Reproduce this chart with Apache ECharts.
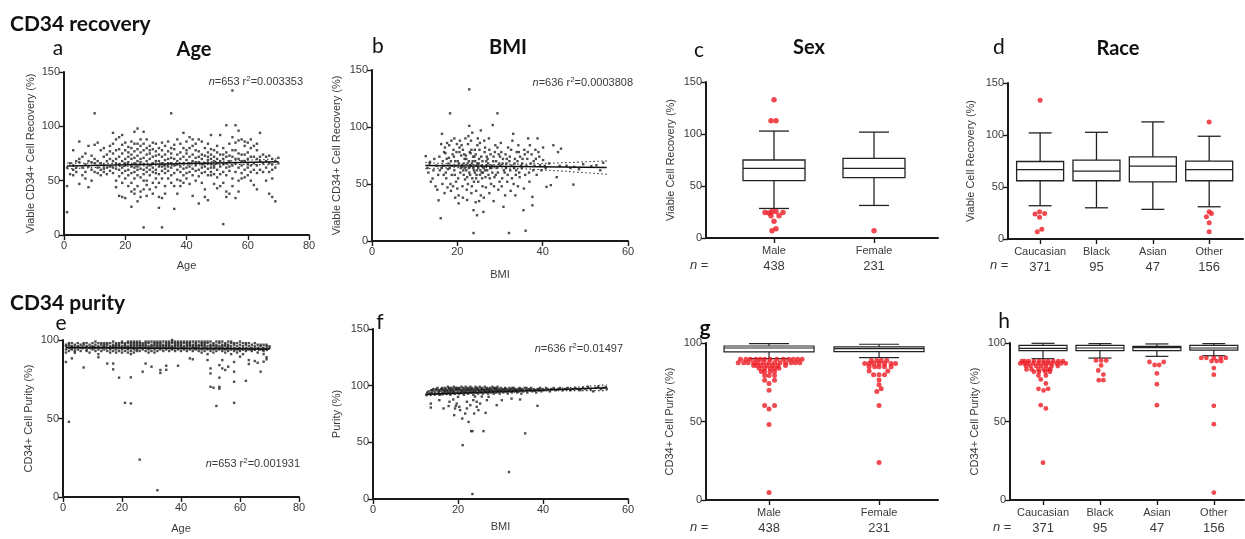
<!DOCTYPE html>
<html>
<head>
<meta charset="utf-8">
<script src="https://cdn.jsdelivr.net/npm/echarts@6/dist/echarts.min.js"></script>
<style>
  html, body { margin: 0; padding: 0; background: #fff; }
  #chart { width: 1245px; height: 539px; }
</style>
</head>
<body>
<div id="chart"></div>
<script>
// ---------- Panel a: viable CD34+ recovery (%) by age (age -> values) ----------
const recoveryByAge = [
  [1,[45,21,62]],[2,[56,66]],[3,[78,60,64,55]],[4,[68,58,62]],[5,[86,47,67,70]],
  [6,[62,55,72]],[7,[75,58,52,65]],[8,[82,44,68,63]],[9,[60,73,50,67]],[10,[112,83,66,58,70]],
  [11,[85,62,57,68]],[12,[78,60,66,55]],[13,[72,64,58,80,61]],[14,[68,74,56,62]],[15,[70,82,59,63,77]],
  [16,[94,75,62,57,68,84]],[17,[66,50,78,44,70,88,61]],[18,[36,72,60,79,90,54,65]],
  [19,[35,92,68,48,75,62,83,57]],[20,[34,64,70,85,52,78,66,59]],[21,[60,72,45,81,67,55,76]],
  [22,[26,74,40,63,86,57,70,48,80]],[23,[95,42,66,77,58,84,52,71,62,38]],
  [24,[98,31,68,79,55,45,84,63,73,60]],[25,[40,70,61,82,53,76,67,35,88]],
  [26,[7,95,42,65,78,56,71,84,60,50]],[27,[50,74,62,68,80,46,58,88,36]],
  [28,[78,64,55,70,42,82,60,75]],[29,[85,66,58,72,48,79,62,38]],[30,[60,73,52,84,68,44,77,57]],
  [31,[25,68,80,56,63,74,48,35]],[32,[7,72,59,85,66,52,78,34,63]],[33,[82,64,57,74,45,69,61,38]],
  [34,[86,70,59,63,52,77,66]],[35,[112,66,80,55,71,62,48,75]],[36,[24,79,64,57,70,45,83]],
  [37,[38,68,74,60,51,88,65]],[38,[50,76,63,84,58,70,45]],[39,[94,66,72,55,80,61,48]],
  [40,[86,62,75,57,69,52,78]],[41,[66,80,58,72,63,90,47]],[42,[36,74,68,55,82,61,88]],
  [43,[78,64,59,71,50,84,67]],[44,[29,72,88,60,67,54,77]],[45,[86,62,70,57,74,48,65]],
  [46,[35,80,66,58,73,63,42]],[47,[32,76,69,84,61,55,72,66]],[48,[92,65,74,58,79,70,62,55]],
  [49,[47,68,78,62,72,56,64]],[50,[43,82,60,70,66,53,76]],[51,[92,56,68,74,45,63]],
  [52,[10,65,80,48,70,58,74]],[53,[101,40,66,55,76,35,62,72]],[54,[38,68,84,59,73,63]],
  [55,[133,90,64,52,72,78,45]],[56,[101,34,78,66,58,85,70]],[57,[96,70,50,62,75,40,87]],
  [58,[88,64,74,52,68,57]],[59,[82,68,60,74,53,86]],[60,[85,62,70,55,76,65]],
  [61,[88,50,72,64,58,80]],[62,[72,60,82,66,46]],[63,[42,70,64,57,78,84]],[64,[94,68,60,72]],
  [65,[66,74,58]],[66,[72,62,50,68]],[67,[73,58,66,38]],[68,[52,35,65,60,70]],[69,[31,68,62]],[70,[71,66]]
];
const ageRecoveryFit = [[1,63.5],[70,67.4]];
const ageRecoveryCiUpper = [[1,66.2],[18,65.9],[35,66.4],[52,67.9],[70,70.2]];
const ageRecoveryCiLower = [[1,60.8],[18,63.0],[35,64.0],[52,64.9],[70,64.6]];

// ---------- Panel b: recovery (%) by BMI ----------
const recoveryByBmi = [
  [12.6,74.4],[13.6,69.4],[14.2,54.8],[15.6,35.7],[13.2,60],[13.8,52],[13.5,68],[13.0,64],
  [14.6,72],[14.4,62],[14.9,48],[15.1,66],[15.5,58],[15.8,74],[15.3,45],[15.9,62],
  [16.1,20],[16.2,85],[16.4,94],[16.6,70],[16.8,58],[16.3,64],[16.9,78],[16.5,50],[16.7,66],
  [17.1,82],[17.3,60],[17.5,72],[17.7,47],[17.9,68],[17.2,77],[17.4,55],[17.6,86],[17.8,63],[17.0,42],
  [18.1,84],[18.3,112],[18.5,70],[18.7,58],[18.9,76],[18.2,64],[18.4,50],[18.6,88],[18.8,66],[18.0,73],[18.5,44],
  [19.1,80],[19.3,62],[19.5,70],[19.7,52],[19.9,85],[19.2,74],[19.4,58],[19.6,66],[19.8,78],[19.0,48],[19.5,38],[19.3,90],
  [20.1,70],[20.3,33],[20.5,82],[20.7,60],[20.9,75],[20.2,55],[20.4,68],[20.6,88],[20.8,64],[20.0,46],[20.5,78],[20.3,40],
  [21.1,66],[21.3,80],[21.5,58],[21.7,72],[21.9,90],[21.2,48],[21.4,62],[21.6,76],[21.8,54],[21.0,84],[21.5,68],[21.3,38],[21.7,64],
  [22.1,72],[22.3,56],[22.5,85],[22.7,64],[22.9,78],[22.2,45],[22.4,68],[22.6,92],[22.8,60],[22.0,75],[22.5,50],[22.3,36],
  [22.8,101],[22.8,133],[22.7,70],[22.1,62],
  [23.1,66],[23.3,80],[23.5,55],[23.7,74],[23.9,62],[23.2,88],[23.4,48],[23.6,70],[23.8,7],[23.8,27],[23.0,58],[23.5,95],
  [23.3,42],[23.7,64],[23.1,77],[23.9,52],[23.4,68],
  [24.1,60],[24.3,76],[24.5,66],[24.7,84],[24.9,52],[24.2,70],[24.4,44],[24.6,22.6],[24.6,62],[24.8,90],[24.0,74],[24.5,58],
  [24.3,34],[24.7,68],[24.1,80],[24.9,64],[24.4,55],
  [25.1,72],[25.3,58],[25.5,97],[25.7,66],[25.9,48],[25.2,80],[25.4,62],[25.6,74],[25.8,55],[25.0,68],[25.5,40],[25.3,86],[25.7,60],[25.1,35],[25.9,70],
  [26.1,25.5],[26.2,64],[26.4,78],[26.6,56],[26.8,70],[26.3,88],[26.5,62],[26.7,47],[26.9,74],[26.0,60],[26.5,82],[26.2,38],[26.8,66],
  [27.1,72],[27.3,58],[27.5,80],[27.7,64],[27.9,50],[27.2,68],[27.4,90],[27.6,55],[27.8,76],[27.0,62],[27.5,42],
  [28.1,66],[28.3,101.7],[28.5,74],[28.7,56],[28.9,84],[28.2,60],[28.4,70],[28.6,48],[28.8,78],[28.0,64],[28.5,35],
  [29.1,70],[29.4,112],[29.5,60],[29.7,76],[29.9,52],[29.2,64],[29.4,82],[29.6,45],[29.8,68],[29.0,58],
  [30.1,66],[30.3,78],[30.5,55],[30.7,72],[30.9,62],[30.2,86],[30.4,48],[30.6,68],[30.8,30],[30.0,74],
  [31.1,60],[31.3,76],[31.5,68],[31.7,52],[31.9,82],[31.2,40],[31.4,64],[31.6,72],[31.8,58],
  [32.1,7],[32.2,70],[32.4,62],[32.6,80],[32.8,55],[32.3,74],[32.5,44],[32.7,66],[32.9,88],
  [33.1,94],[33.3,64],[33.5,72],[33.7,58],[33.9,78],[33.2,50],[33.4,68],[33.6,40],[33.8,62],
  [34.1,70],[34.3,84],[34.5,60],[34.7,74],[34.9,66],[34.2,48],[34.4,78],[34.6,56],
  [35.1,64],[35.5,27],[35.3,72],[35.7,80],[35.9,58],[35.2,68],[35.6,46],[35.8,76],
  [36.0,9],[36.2,66],[36.6,90],[36.4,72],[36.8,60],[36.5,78],[36.9,52],
  [37.2,68],[37.6,38.7],[37.6,31.3],[37.4,76],[37.8,62],[37.0,84],[37.9,70],
  [38.1,66],[38.8,90],[38.4,72],[38.6,58],[38.3,80],[39.4,66.5],[39.2,74],[39.7,62],[39.0,78],
  [40.1,82],[40.1,71],[40.5,66],[40.9,47.5],[40.7,64],[41.9,49],[42.5,84],[41.5,68],[43.3,56],[44.3,81],
  [43.6,78],[44.0,66],[45.6,66],[47.2,49.5],[47.4,65],[46.5,64],[49.5,67.4],[51.4,65.6],[52.6,66.5],
  [54.2,68.6],[53.5,62],[48.5,63]
];
const bmiRecoveryFit = [[12.5,66.2],[55,64.5]];
const bmiRecoveryCiUpper = [[12.5,69.0],[18,67.6],[25,67.0],[35,67.5],[45,68.7],[55,70.3]];
const bmiRecoveryCiLower = [[12.5,63.4],[18,64.2],[25,64.4],[35,63.4],[45,61.2],[55,58.6]];

// ---------- Panel c: recovery by sex ----------
const sexCategories = ['Male', 'Female'];
const sexCounts = [438, 231];
// [lower whisker, Q1, median, Q3, upper whisker]
const sexRecoveryBoxes = [[28.4,55.2,67,75,102.8],[31.3,58,67,76.6,101.8]];
// [category index, horizontal spread, value]
const sexRecoveryOutliers = [
  [0,0,133],[0,-0.03,112.7],[0,0.02,112.7],[0,-0.09,24.6],[0,-0.05,24],[0,-0.02,25.5],[0,0.02,25.5],
  [0,0.09,24.6],[0,-0.03,21.4],[0,0.05,21.4],[0,0,16],[0,0.02,8.9],[0,-0.02,7],[1,0,7]
];

// ---------- Panel d: recovery by race ----------
const raceCategories = ['Caucasian', 'Black', 'Asian', 'Other'];
const raceCounts = [371, 95, 47, 156];
const raceRecoveryBoxes = [[32,56,66.8,74.5,102],[30,56,65.2,75.8,102.6],[28.5,55,70,79,112.6],[31,56,66.8,74.8,98.8]];
const raceRecoveryOutliers = [
  [0,0,133.4],[0,-0.09,24],[0,-0.01,26.2],[0,0.08,24.6],[0,-0.01,20.8],[0,0.03,9.3],[0,-0.05,7],
  [3,0,112.6],[3,0,26.2],[3,0.04,24.6],[3,-0.05,21.4],[3,0,15.7],[3,0,7]
];

// ---------- Panel e: CD34+ purity (%) by age ----------
const purityBandByAge = [
  [1,[96,94,97,92]],[2,[95,97,93,98]],[3,[96,94,98,95]],[4,[97,93,95]],[5,[96,98,94]],[6,[95,97,93]],
  [7,[97,95,98]],[8,[94,96,98,93]],[9,[97,95,92]],[10,[96,98,94,95]],[11,[97,99,95,93]],[12,[96,94,98,91]],
  [13,[95,97,93,98]],[14,[96,94,98,97]],[15,[97,95,93,98]],[16,[96,98,94,95,92]],[17,[95,97,99,93,96]],
  [18,[98,96,94,97,92]],[19,[95,97,93,98,96]],[20,[96,98,94,99,92,95]],[21,[97,95,93,98,96]],
  [22,[96,98,94,99,92,95]],[23,[97,99,95,93,96,98,91]],[24,[96,98,94,99,95,97,92]],[25,[98,96,94,97,99,93]],
  [26,[95,97,99,93,96,98]],[27,[96,98,94,97,95]],[28,[97,99,95,93,96,98]],[29,[96,98,94,99,92,95]],
  [30,[97,95,99,93,96]],[31,[98,96,94,97,99,92]],[32,[95,97,99,93,96,98]],[33,[96,98,94,99,95,97]],
  [34,[97,99,95,93,96]],[35,[98,96,94,97,99,95]],[36,[95,97,99,93,96,98]],[37,[96,98,94,99,95,100]],
  [38,[97,99,95,93,96,98]],[39,[98,96,94,97,99]],[40,[95,97,99,93,96,98]],[41,[96,98,94,99,95]],
  [42,[97,99,95,93,96,98]],[43,[98,96,94,97,99]],[44,[95,97,99,93,96]],[45,[96,98,94,99,95,97]],
  [46,[97,99,95,93,96]],[47,[98,96,94,97,99,92]],[48,[95,97,99,93,96,98]],[49,[96,98,94,99,91]],
  [50,[97,99,95,93,96]],[51,[98,96,94,97,92]],[52,[95,97,99,93,96]],[53,[96,98,94,99,95]],
  [54,[97,99,95,93,96]],[55,[98,96,94,97,92]],[56,[95,97,99,93,96]],[57,[96,98,94,99,91]],
  [58,[97,95,93,98]],[59,[96,94,98,92]],[60,[97,95,99,93]],[61,[96,98,94,91]],[62,[97,95,98,93]],
  [63,[96,94,98]],[64,[95,97,93]],[65,[96,98,94]],[66,[95,97,92]],[67,[96,94,97]],[68,[95,93,97,91]],
  [69,[96,94,97]],[70,[95,96]]
];
const purityAgeOutliers = [
  [1,86],[2,47.9],[3,88.3],[4,91.9],[7,82.5],[12,89],[15,85],[17,85],[17,81.3],[19,76],[21,60],[23,59.6],
  [23,76.2],[26,23.8],[27,79.8],[28,85],[32,4.3],[30,83],[33,80.9],[33,79],[35,81],[35,83.6],[39,83.6],
  [43,88.3],[44,87.7],[49,87.2],[50,81.9],[50,78.7],[50,70.2],[51,69.6],[52,58],[53,84],[53,76],[53,70.2],
  [53,69],[54,81.9],[54,87.2],[55,80.9],[56,83],[58,86],[58,73.4],[58,60],[58,79.8],[60,89.4],[62,74],
  [63,87.2],[63,84.7],[65,86.6],[66,85.5],[67,79.8],[68,86.2],[69,89],[69,87.7]
];
const agePurityFit = [[1,95.3],[70,94.2]];
const agePurityCiUpper = [[1,96.4],[35,95.2],[70,95.3]];
const agePurityCiLower = [[1,94.2],[35,94.3],[70,93.1]];

// ---------- Panel f: purity (%) by BMI ----------
const purityByBmi = [
  [12.5,92],[12.8,94],[13.1,95],[13.4,93],[13.7,96],[13.9,94],[14.2,97],[14.5,95],[14.7,93],[15.0,96],[15.2,98],
  [15.4,94],[15.6,96],[15.8,92],[16.0,97],[16.1,95],[16.3,98],[16.4,93],[16.6,96],[16.7,94],[16.9,98],[17.0,95],
  [17.2,97],[17.3,93],[17.5,96],[17.6,99],[17.8,94],[17.9,97],[18.1,95],[18.2,92],[18.4,98],[18.5,96],[18.7,94],
  [18.8,97],[19.0,99],[19.1,95],[19.3,93],[19.4,97],[19.6,96],[19.7,98],[19.9,94],[20.0,96],[20.2,98],[20.3,93],
  [20.5,97],[20.6,95],[20.8,99],[20.9,94],[21.1,96],[21.2,98],[21.4,92],[21.5,97],[21.7,95],[21.8,99],[22.0,94],
  [22.1,96],[22.3,98],[22.4,93],[22.6,97],[22.7,95],[22.9,99],[23.0,96],[23.2,94],[23.3,98],[23.5,96],[23.6,92],
  [23.8,97],[23.9,95],[24.1,99],[24.2,94],[24.4,96],[24.5,98],[24.7,93],[24.8,97],[25.0,95],[25.1,99],[25.3,96],
  [25.4,94],[25.6,98],[25.7,96],[25.9,93],[26.0,97],[26.2,95],[26.3,99],[26.5,96],[26.6,94],[26.8,98],[26.9,96],
  [27.1,93],[27.2,97],[27.4,95],[27.5,98],[27.7,96],[27.8,94],[28.0,97],[28.1,99],[28.3,95],[28.4,93],[28.6,97],
  [28.7,96],[28.9,98],[29.0,94],[29.2,96],[29.3,99],[29.5,95],[29.6,97],[29.8,93],[29.9,96],[30.1,98],[30.3,95],
  [30.5,97],[30.7,94],[30.9,96],[31.1,98],[31.3,95],[31.5,97],[31.7,93],[31.9,96],[32.1,98],[32.3,95],[32.5,97],
  [32.7,94],[32.9,96],[33.1,98],[33.3,95],[33.5,97],[33.7,96],[33.9,94],[34.1,97],[34.3,95],[34.5,98],[34.7,96],
  [34.9,93],[35.1,97],[35.4,95],[35.7,98],[36.0,96],[36.3,94],[36.6,97],[36.9,96],[37.2,98],[37.5,95],[37.8,97],
  [38.1,96],[38.4,94],[38.7,97],[39.0,96],[39.3,98],[39.6,95],[39.9,97],[40.3,96],[40.7,98],[41.1,97],[41.6,95],
  [42.0,97],[42.5,98],[43.0,96],[43.5,97],[44.0,98],[44.6,96],[45.2,97],[45.8,98],[46.4,96],[47.0,97],[47.6,98],
  [48.2,97],[48.8,96],[49.4,98],[50.0,97],[50.6,99],[51.2,97],[51.8,95],[52.4,98],[53.0,99],[53.6,97],[54.2,98],
  [54.8,99],[55.0,97],
  [14.0,96],[14.8,97],[15.5,95],[16.2,97],[16.8,96],[17.4,95],[17.9,98],[18.3,96],[18.9,95],[19.5,98],[20.1,97],
  [20.7,96],[21.3,95],[21.9,97],[22.5,96],[23.1,97],[23.7,95],[24.3,97],[24.9,96],[25.5,97],[26.1,96],[26.7,97],
  [27.3,96],[27.9,95],[28.5,98],[29.1,97],[29.7,95],[30.4,96],[31.0,97],[31.6,95],[32.2,96],[32.8,98],[33.4,96],
  [34.0,95],[34.6,97],[35.2,96],[36.1,98],[37.0,97],[38.0,96],[39.1,97],
  [13.6,84.2],[13.6,80.7],[15.6,87.2],[16.6,79.9],[19.1,74],[19.3,79.9],[19.7,84.2],[19.5,82.2],[20.3,81.3],
  [21.0,71],[21.1,47.5],[21.7,75.4],[22.1,79.9],[22.5,68],[22.9,82.8],[23.1,59.9],[23.4,59.9],[23.6,87.2],
  [23.4,4.4],[23.8,75.4],[24.4,81.3],[24.8,78.4],[25.2,84.2],[26.0,59.9],[26.5,76],[26.8,87.2],[27.2,90.1],
  [32.0,23.8],[35.8,57.9],[38.7,82.2],[30.3,87.2],[29.1,82.8],[32.6,88.6],[34.6,87.8],[20.5,78.4],[20.0,90.1],
  [17.8,82],[18.0,85.8],[22.1,85.8],[24.0,90.4],[24.4,85.8],[25.6,90.4],[18.9,87.8]
];
const bmiPurityFit = [[12.5,92.3],[55,98.2]];
const bmiPurityCiUpper = [[12.5,93.6],[25,94.6],[35,96.2],[45,98.0],[55,100.8]];
const bmiPurityCiLower = [[12.5,91.0],[25,93.4],[35,94.6],[45,95.6],[55,95.6]];

// ---------- Panel g: purity by sex ----------
const sexPurityBoxes = [[90.0,94.3,96.8,98.1,99.6],[90.7,94.5,96.4,97.5,99.2]];
const sexPurityOutliers = [
  [0,-0.26,89.6],[0,-0.21,89.6],[0,-0.17,89.6],[0,-0.12,89.6],[0,-0.08,89.6],[0,-0.04,89.6],[0,0.01,89.6],
  [0,0.07,89.6],[0,0.13,89.6],[0,0.18,89.6],[0,0.22,89.6],[0,0.26,89.6],[0,0.30,89.6],
  [0,-0.28,87.5],[0,-0.23,87.5],[0,-0.19,87.5],[0,-0.14,87.5],[0,-0.10,87.5],[0,-0.05,87.5],[0,0,87.5],
  [0,0.05,87.5],[0,0.10,87.5],[0,0.15,87.5],[0,0.20,87.5],[0,0.24,87.5],[0,0.28,87.5],
  [0,-0.14,85.6],[0,-0.11,85.6],[0,-0.07,85.6],[0,-0.02,85.6],[0,0.03,85.6],[0,0.08,85.6],[0,0.15,85.6],
  [0,-0.09,83.9],[0,-0.04,83.9],[0,0.01,83.9],[0,0.05,83.9],[0,0.09,83.9],
  [0,-0.07,81.8],[0,-0.04,81.8],[0,0.01,81.8],[0,0.05,81.8],
  [0,-0.04,79.3],[0,0,79.3],[0,0.05,79.3],[0,-0.04,76.3],[0,0.05,76.3],[0,0,74.2],[0,0,69.9],
  [0,-0.04,60.2],[0,0.05,60.2],[0,0,58],[0,0,48.1],[0,0,4.7],
  [1,-0.07,88.8],[1,-0.02,88.8],[1,0.02,88.8],[1,0.07,88.8],
  [1,-0.13,86.9],[1,-0.09,86.9],[1,-0.05,86.9],[1,0,86.9],[1,0.05,86.9],[1,0.11,86.9],[1,0.15,86.9],
  [1,-0.09,84.8],[1,-0.04,84.8],[1,0,84.8],[1,0.05,84.8],[1,0.11,84.8],
  [1,-0.09,82.2],[1,0.08,82.2],[1,-0.05,79.7],[1,0,79.7],[1,0.05,79.7],
  [1,0,76.5],[1,0,73.4],[1,0.02,70.8],[1,-0.02,69.1],[1,0,60.2],[1,0,23.9]
];

// ---------- Panel h: purity by race ----------
const racePurityBoxes = [[90,95.1,96.6,98.5,99.8],[90.4,95.1,96.8,98.5,99.6],[91.5,95.1,97,97.9,99.4],[91.9,95.5,96.8,98.5,99.6]];
const racePurityOutliers = [
  [0,-0.37,88.5],[0,-0.32,88.5],[0,-0.25,88.5],[0,-0.16,88.5],[0,-0.07,88.5],[0,0.01,88.5],[0,0.09,88.5],
  [0,0.18,88.5],[0,0.27,88.5],[0,0.35,88.5],
  [0,-0.40,87],[0,-0.33,87],[0,-0.26,87],[0,-0.17,87],[0,-0.08,87],[0,0.01,87],[0,0.08,87],[0,0.15,87],
  [0,0.24,87],[0,0.32,87],[0,0.40,87],
  [0,-0.30,85.3],[0,-0.22,85.3],[0,-0.12,85.3],[0,-0.04,85.3],[0,0.05,85.3],[0,0.15,85.3],[0,0.26,85.3],
  [0,-0.29,83.2],[0,-0.20,83.2],[0,-0.08,83.2],[0,0.01,83.2],[0,0.09,83.2],[0,0.13,83.2],
  [0,-0.16,81.7],[0,-0.07,81.7],[0,0.04,81.7],[0,0.12,81.7],
  [0,-0.08,79.3],[0,0.05,79.3],[0,-0.04,76.8],[0,0.05,74.2],[0,-0.08,70.8],[0,0.09,70.8],[0,0.01,69.8],
  [0,-0.04,60.4],[0,0.05,58.3],[0,0,23.8],
  [1,-0.07,88.9],[1,0.02,88.9],[1,0.11,88.9],[1,0.02,85.7],[1,-0.03,82.5],[1,0.06,79.9],[1,-0.02,76.3],[1,0.06,76.3],
  [2,-0.13,87.9],[2,0.12,87.9],[2,-0.04,86],[2,0.04,86],[2,0,80.6],[2,0,73.8],[2,0,60.4],
  [3,-0.22,90.5],[3,-0.13,90.5],[3,0,90.5],[3,0.12,90.5],[3,0.21,90.5],
  [3,-0.04,88.5],[3,0.05,88.5],[3,0.13,88.5],[3,0,84],[3,0,79.8],[3,0,60],[3,0,48.3],[3,0,4.7]
];

// ---------- drawing ----------
const AXIS_FONT = '"Liberation Sans", Arial, sans-serif';
const HEAD_FONT = 'Lato, "Open Sans", sans-serif';
const INK = '#1a1a1a';
const LABEL_INK = '#3a3a3a';
const RED = '#ee1c24';

const expandGroups = groups => groups.flatMap(([x, ys]) => ys.map(y => [x, y]));
const boxData = boxes => boxes.map((b, i) => [i + 1].concat(b));
const dotData = pts => pts.map(([ci, dx, v]) => [ci + 1 + dx, v]);

const grids = [
  { left: 64,   top: 72,  width: 245, height: 163 },  // a
  { left: 372,  top: 70,  width: 256, height: 171 },  // b
  { left: 706,  top: 82,  width: 232, height: 156 },  // c
  { left: 1008, top: 83,  width: 235, height: 156 },  // d
  { left: 63,   top: 340, width: 236, height: 157 },  // e
  { left: 373,  top: 329, width: 255, height: 170 },  // f
  { left: 706,  top: 343, width: 232, height: 157 },  // g
  { left: 1010, top: 343, width: 234, height: 157 }   // h
].map(g => Object.assign({ containLabel: false, outerBoundsMode: 'none' }, g));

const axisLine = { show: true, onZero: false, lineStyle: { color: INK, width: 2 } };
const axisTick = { show: true, length: 5, lineStyle: { color: INK, width: 1.4 } };

function yAxis(gi, max, name, gap) {
  return {
    gridIndex: gi, type: 'value', min: 0, max: max, interval: 50,
    name: name, nameLocation: 'middle', nameGap: gap,
    nameTextStyle: { fontFamily: AXIS_FONT, fontSize: 11, color: LABEL_INK },
    axisLine, axisTick,
    axisLabel: { fontFamily: AXIS_FONT, fontSize: 11, color: LABEL_INK, margin: 4 },
    splitLine: { show: false }
  };
}
function xValueAxis(gi, max, name, gap) {
  return {
    gridIndex: gi, type: 'value', min: 0, max: max, interval: 20,
    name: name, nameLocation: 'middle', nameGap: gap,
    nameTextStyle: { fontFamily: AXIS_FONT, fontSize: 11, color: LABEL_INK },
    axisLine, axisTick,
    axisLabel: { fontFamily: AXIS_FONT, fontSize: 11, color: LABEL_INK, margin: 5 },
    splitLine: { show: false }
  };
}
function xGroupAxis(gi, min, max, cats, counts) {
  const positions = cats.map((c, i) => i + 1);
  return {
    gridIndex: gi, type: 'value', min: min, max: max,
    axisLine, axisTick: Object.assign({ customValues: positions }, axisTick),
    axisLabel: {
      customValues: positions, margin: 6,
      fontFamily: AXIS_FONT, fontSize: 11, color: LABEL_INK, lineHeight: 14,
      formatter: v => { const i = Math.round(v) - 1; return cats[i] + '\n{n|' + counts[i] + '}'; },
      rich: { n: { fontFamily: AXIS_FONT, fontSize: 13, color: LABEL_INK, lineHeight: 16 } }
    },
    splitLine: { show: false }
  };
}

const xAxes = [
  xValueAxis(0, 80, 'Age', 25),
  xValueAxis(1, 60, 'BMI', 28),
  xGroupAxis(2, 0.32, 2.64, sexCategories, sexCounts),
  xGroupAxis(3, 0.43, 4.6, raceCategories, raceCounts),
  xValueAxis(4, 80, 'Age', 26),
  xValueAxis(5, 60, 'BMI', 22),
  xGroupAxis(6, 0.427, 2.536, sexCategories, sexCounts),
  xGroupAxis(7, 0.42, 4.53, raceCategories, raceCounts)
];
const yAxes = [
  yAxis(0, 150, 'Viable CD34+ Cell Recovery (%)', 28),
  yAxis(1, 150, 'Viable CD34+ Cell Recovery (%)', 30),
  yAxis(2, 150, 'Viable Cell Recovery (%)', 30),
  yAxis(3, 150, 'Viable Cell Recovery (%)', 32),
  yAxis(4, 100, 'CD34+ Cell Purity (%)', 29),
  yAxis(5, 150, 'Purity (%)', 31),
  yAxis(6, 100, 'CD34+ Cell Purity (%)', 31),
  yAxis(7, 100, 'CD34+ Cell Purity (%)', 30)
];

function scatter(idx, data) {
  return {
    type: 'scatter', xAxisIndex: idx, yAxisIndex: idx, data: data,
    symbol: 'rect', symbolSize: 2.4, itemStyle: { color: '#222' }, silent: true
  };
}
function fitLine(idx, data, dotted) {
  return {
    type: 'line', xAxisIndex: idx, yAxisIndex: idx, data: data, showSymbol: false, silent: true,
    smooth: dotted ? 0.4 : false, z: 3,
    lineStyle: dotted ? { color: '#333', width: 1.1, type: [1.5, 2.5] } : { color: '#111', width: 1.6 }
  };
}
function boxSeries(idx, boxes, boxPx, capPx, lw) {
  return {
    type: 'custom', xAxisIndex: idx, yAxisIndex: idx, data: boxData(boxes), silent: true,
    encode: { x: 0, y: [1, 2, 3, 4, 5] },
    renderItem: (params, api) => {
      const x = api.value(0);
      const lo = api.coord([x, api.value(1)]);
      const q1 = api.coord([x, api.value(2)]);
      const md = api.coord([x, api.value(3)]);
      const q3 = api.coord([x, api.value(4)]);
      const hi = api.coord([x, api.value(5)]);
      const cx = lo[0], hb = boxPx / 2, hc = capPx / 2;
      const st = { stroke: '#222', lineWidth: lw, fill: null };
      return {
        type: 'group', children: [
          { type: 'line', shape: { x1: cx, y1: hi[1], x2: cx, y2: q3[1] }, style: st },
          { type: 'line', shape: { x1: cx - hc, y1: hi[1], x2: cx + hc, y2: hi[1] }, style: st },
          { type: 'line', shape: { x1: cx, y1: q1[1], x2: cx, y2: lo[1] }, style: st },
          { type: 'line', shape: { x1: cx - hc, y1: lo[1], x2: cx + hc, y2: lo[1] }, style: st },
          { type: 'rect', shape: { x: cx - hb, y: q3[1], width: boxPx, height: q1[1] - q3[1] },
            style: { stroke: '#222', lineWidth: lw, fill: '#fff' } },
          { type: 'line', shape: { x1: cx - hb, y1: md[1], x2: cx + hb, y2: md[1] }, style: st }
        ]
      };
    }
  };
}
function redDots(idx, pts, size) {
  return {
    type: 'scatter', xAxisIndex: idx, yAxisIndex: idx, data: dotData(pts), silent: true,
    symbol: 'circle', symbolSize: size, itemStyle: { color: RED }, z: 4
  };
}

const series = [
  scatter(0, expandGroups(recoveryByAge)),
  fitLine(0, ageRecoveryFit), fitLine(0, ageRecoveryCiUpper, true), fitLine(0, ageRecoveryCiLower, true),
  scatter(1, recoveryByBmi),
  fitLine(1, bmiRecoveryFit), fitLine(1, bmiRecoveryCiUpper, true), fitLine(1, bmiRecoveryCiLower, true),
  boxSeries(2, sexRecoveryBoxes, 62, 30, 1.3), redDots(2, sexRecoveryOutliers, 5.5),
  boxSeries(3, raceRecoveryBoxes, 47, 23, 1.3), redDots(3, raceRecoveryOutliers, 5),
  scatter(4, expandGroups(purityBandByAge).concat(purityAgeOutliers)),
  fitLine(4, agePurityFit), fitLine(4, agePurityCiUpper, true), fitLine(4, agePurityCiLower, true),
  scatter(5, purityByBmi),
  fitLine(5, bmiPurityFit), fitLine(5, bmiPurityCiUpper, true), fitLine(5, bmiPurityCiLower, true),
  boxSeries(6, sexPurityBoxes, 90, 40, 1.2), redDots(6, sexPurityOutliers, 5),
  boxSeries(7, racePurityBoxes, 48, 23, 1.2), redDots(7, racePurityOutliers, 4.8)
];

// headings and free-standing labels
function head(text, x, y, size, bold) {
  return { type: 'text', x: x, y: y, silent: true,
    style: { text: text, fill: '#111', font: (bold ? 'bold ' : '') + size + 'px ' + HEAD_FONT,
             align: 'center', verticalAlign: 'middle' } };
}
function leftHead(text, x, y) {
  return { type: 'text', x: x, y: y, silent: true,
    style: { text: text, fill: '#111', font: 'bold 21px ' + HEAD_FONT, align: 'left', verticalAlign: 'middle' } };
}
function stat(text, x, y) {
  const base = { fontFamily: AXIS_FONT, fontSize: 11, fill: LABEL_INK };
  return { type: 'text', x: x, y: y, silent: true,
    style: Object.assign({ text: text, align: 'right', verticalAlign: 'middle',
      rich: {
        i: Object.assign({ fontStyle: 'italic' }, base),
        t: Object.assign({}, base),
        s: Object.assign({}, base, { fontSize: 8, verticalAlign: 'top', lineHeight: 14 })
      } }, base) };
}
function nLabel(x, y) {
  const base = { fontFamily: AXIS_FONT, fontSize: 13, fill: LABEL_INK };
  return { type: 'text', x: x, y: y, silent: true,
    style: Object.assign({ text: '{i|n} =', align: 'left', verticalAlign: 'middle',
      rich: { i: Object.assign({ fontStyle: 'italic' }, base) } }, base) };
}

const graphic = [
  leftHead('CD34 recovery', 10, 24),
  leftHead('CD34 purity', 10, 303),
  head('a', 58, 48, 21, false), head('Age', 194, 50, 20, true),
  head('b', 378, 46, 21, false), head('BMI', 508, 48, 20, true),
  head('c', 699, 50, 21, false), head('Sex', 809, 48, 20, true),
  head('d', 999, 47, 21, false), head('Race', 1118, 49, 20, true),
  head('e', 61, 323, 21, false),
  head('f', 380, 322, 21, false),
  head('g', 705, 328, 21, true),
  head('h', 1004, 321, 21, false),
  stat('{i|n}{t|=653 r}{s|2}{t|=0.003353}', 303, 82),
  stat('{i|n}{t|=636 r}{s|2}{t|=0.0003808}', 633, 83),
  stat('{i|n}{t|=653 r}{s|2}{t|=0.001931}', 300, 464),
  stat('{i|n}{t|=636 r}{s|2}{t|=0.01497}', 623, 349),
  nLabel(690, 265), nLabel(990, 265), nLabel(690, 527), nLabel(993, 527)
];

const chart = echarts.init(document.getElementById('chart'), null, { renderer: 'canvas' });
chart.setOption({
  animation: false,
  backgroundColor: '#ffffff',
  grid: grids,
  xAxis: xAxes,
  yAxis: yAxes,
  series: series,
  graphic: graphic
});
</script>
</body>
</html>
